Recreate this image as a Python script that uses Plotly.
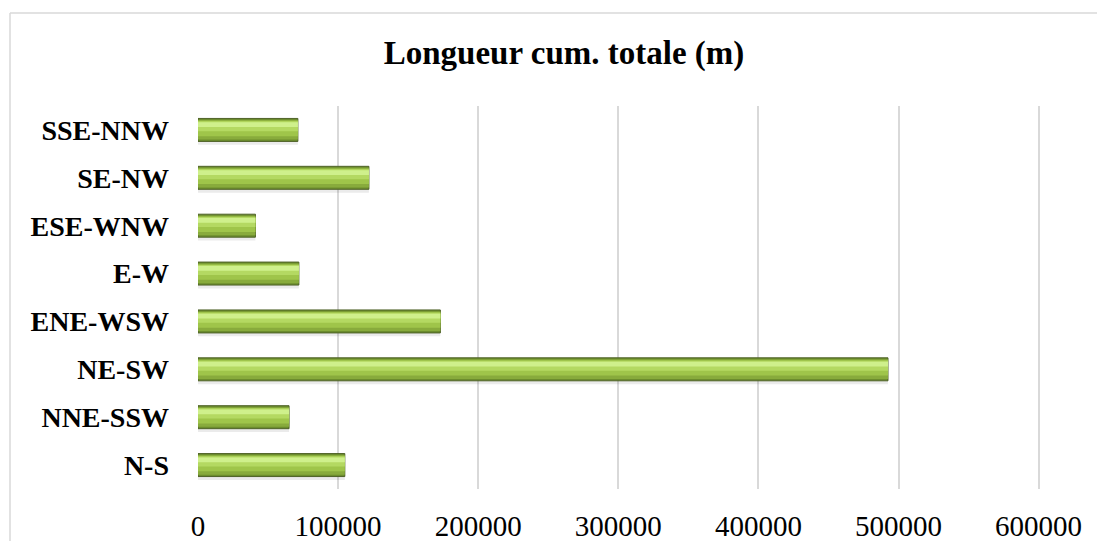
import plotly.graph_objects as go

categories = ["N-S", "NNE-SSW", "NE-SW", "ENE-WSW", "E-W", "ESE-WNW", "SE-NW", "SSE-NNW"]
values = [104800, 65000, 492500, 173000, 72000, 41000, 122000, 71300]
x_ticks = [0, 100000, 200000, 300000, 400000, 500000, 600000]
title_text = "Longueur cum. totale (m)"

SH = 8  # page body margin compensation
W, H = 1105 - 2 * SH, 549 - 2 * SH
L, R, T, B = 198 - SH, 1040 - SH, 106 - SH, 489 - SH

fig = go.Figure()
# soft shadow
fig.add_trace(go.Bar(y=categories, x=values, orientation="h", width=0.50, offset=-0.31,
                     marker=dict(color="rgba(0,0,0,0.08)", line=dict(width=0)), hoverinfo="skip"))
# gradient layers (offset, width, color)
layers = [
    (-0.24, 0.48, "#6C8D2D"),
    (-0.20, 0.41, "#88AB3C"),
    (-0.13, 0.32, "#9FC54A"),
    (-0.03, 0.21, "#B4D962"),
    (0.06, 0.10, "#CFF08C"),
]
for i, (off, wd, col) in enumerate(layers):
    line = dict(color="#4F6228", width=1) if i == 0 else dict(width=0)
    fig.add_trace(go.Bar(y=categories, x=values, orientation="h", width=wd, offset=off,
                         marker=dict(color=col, line=line),
                         hoverinfo="skip" if i else None))

px2x = lambda px: (px - SH - L) / (R - L)
px2y = lambda py: (B - (py - SH)) / (B - T)

fig.update_layout(
    width=W, height=H,
    barmode="overlay",
    showlegend=False,
    paper_bgcolor="white", plot_bgcolor="white",
    margin=dict(l=L, r=W - R, t=T, b=H - B, pad=0, autoexpand=False),
    title=dict(text="<b>" + title_text + "</b>", x=(564 - SH) / W, xanchor="center",
               y=1 - (52 - SH) / H, yanchor="middle", xref="container", yref="container",
               font=dict(family="Liberation Serif", size=33, color="black")),
    xaxis=dict(range=[0, 601000], tickvals=x_ticks, ticktext=[str(v) for v in x_ticks],
               showgrid=True, gridcolor="#D9D9D9", gridwidth=1.5, zeroline=False,
               showline=False, ticks="", ticklabelstandoff=17, automargin=False,
               tickfont=dict(family="Liberation Serif", size=29, color="black")),
    yaxis=dict(showgrid=False, zeroline=False, showline=False, ticks="",
               categoryorder="array", categoryarray=categories,
               ticklabelstandoff=28, automargin=False,
               tickfont=dict(family="Liberation Serif", size=28, color="black", weight="bold")),
    shapes=[
        dict(type="line", xref="paper", yref="paper", x0=px2x(10), x1=px2x(10),
             y0=px2y(13), y1=px2y(700), line=dict(color="#D9D9D9", width=1.5), layer="below"),
        dict(type="line", xref="paper", yref="paper", x0=px2x(10), x1=px2x(1200),
             y0=px2y(13), y1=px2y(13), line=dict(color="#D9D9D9", width=1.5), layer="below"),
    ],
)

fig.write_html("out.html")
